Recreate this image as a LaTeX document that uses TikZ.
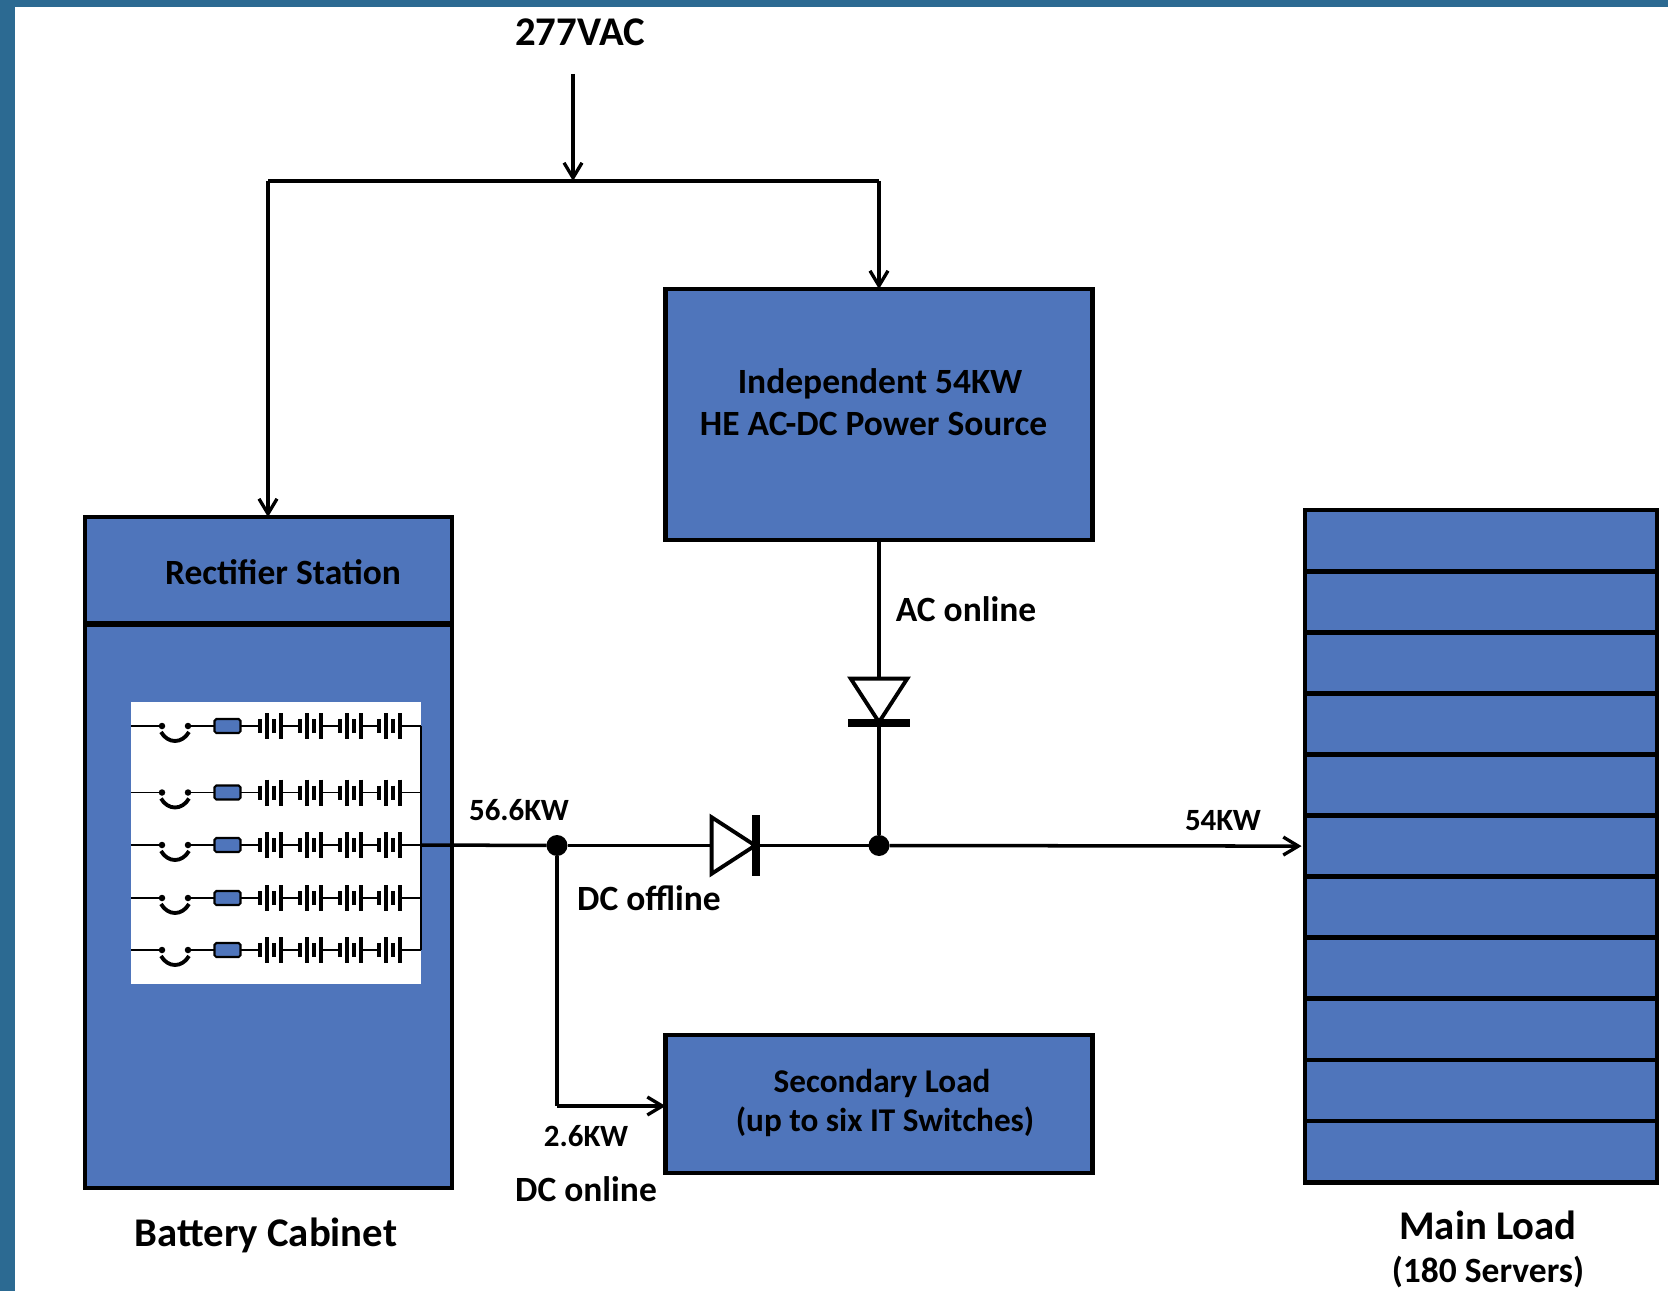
\documentclass[tikz,border=0pt]{standalone}
\usepackage{fontspec}
\setmainfont{Carlito}
\usepackage{xcolor}
\usetikzlibrary{shapes.geometric,arrows.meta}
\definecolor{boxblue}{HTML}{4F75BB}
\definecolor{framebl}{HTML}{2C6A92}

\begin{document}
\begin{tikzpicture}[
  x=0.02cm, y=-0.02cm,
  font=\bfseries\fontsize{20.2}{24}\selectfont,
  every node/.append style={align=center},
  blk/.style={rectangle, draw, fill=boxblue, line width=2.7pt, inner sep=0pt, outer sep=0pt},
  srv/.style={blk, minimum width=7.04cm, minimum height=1.222cm},
  arr/.style={-{Straight Barb[length=3mm,width=3.6mm,line width=1.9pt]}, line width=2pt},
  wire/.style={line width=2pt},
  thin wire/.style={line width=0.9pt},
  dot/.style={circle, fill, inner sep=0pt, outer sep=0pt, minimum size=0.42cm},
  sdot/.style={circle, fill, inner sep=0pt, outer sep=0pt, minimum size=0.13cm},
  fuse/.style={rectangle, rounded corners=1pt, draw, fill=boxblue, line width=1.2pt, inner sep=0pt, outer sep=0pt, minimum width=0.52cm, minimum height=0.28cm},
  dio/.style={isosceles triangle, isosceles triangle apex angle=66, draw, fill=white, line width=2.2pt, inner sep=0pt, outer sep=0pt, minimum height=0.87cm},
  bar/.style={rectangle, fill, inner sep=0pt, outer sep=0pt},
  small/.style={font=\bfseries\fontsize{17.6}{21}\selectfont},
  big/.style={font=\bfseries\fontsize{23.2}{27}\selectfont}
]
% page
\fill[framebl] (0,0) rectangle (1668,1291);
\fill[white] (15,7) rectangle (1668,1291);
\useasboundingbox (0,0) rectangle (1668,1291);

% boxes
\node[blk, minimum width=8.54cm, minimum height=5.02cm] (src) at (879,414.5) {};
\node[blk, minimum width=7.34cm, minimum height=2.14cm] (rect) at (268.5,570.5) {};
\node[blk, minimum width=7.34cm, minimum height=11.28cm] (batt) at (268.5,906) {};
\draw[line width=3.6pt] (rect.south west) -- (rect.south east);
\node[blk, minimum width=8.54cm, minimum height=2.76cm] (sec) at (879,1104) {};
\foreach \i in {1,...,11}
  \node[srv] (srv\i) at (1481,{479.5+61.1*\i}) {};

% battery strings
\node[rectangle, fill=white, inner sep=0pt, minimum width=5.8cm, minimum height=5.64cm] (panel) at (276,843) {};
\foreach \i/\ry in {1/726,2/792.5,3/845,4/898,5/950} {
  \coordinate (rowl\i) at (131,\ry);
  \coordinate (rowr\i) at (421,\ry);
  \node[sdot] (swa\i) at (162,\ry) {};
  \node[sdot] (swb\i) at (188,\ry) {};
  \node[fuse] (fuse\i) at (227.5,\ry) {};
  \draw[thin wire] (rowl\i) -- (swa\i);
  \draw[thin wire] (swb\i) -- (fuse\i);
  \draw[thin wire] (fuse\i) -- (rowr\i);
  \draw[line width=2.2pt] (161,\ry+6) .. controls (168,\ry+18) and (182,\ry+18) .. (189,\ry+6);
  \foreach \cx in {260,300,340,379} {
    \draw[line width=1.5pt, white] (\cx,\ry) -- (\cx+21,\ry);
    \draw[line width=2pt] (\cx,\ry-7) -- (\cx,\ry+7);
    \draw[line width=2pt] (\cx+7,\ry-13) -- (\cx+7,\ry+13);
    \draw[line width=2pt] (\cx+14,\ry-7) -- (\cx+14,\ry+7);
    \draw[line width=2pt] (\cx+21,\ry-13) -- (\cx+21,\ry+13);
  }
}
\draw[thin wire] (rowr1) -- (rowr5);

% supply
\coordinate (ac) at (573,74);
\coordinate (busl) at (268,181);
\coordinate (busm) at (573,181);
\coordinate (busr) at (879,181);
\draw[arr] (ac) -- (busm);
\draw[wire] (busl) -- (busr);
\draw[arr] (busl) -- (busl |- rect.north);
\draw[arr] (busr) -- (src.north);

% diodes and junctions
\node[dot] (jdc) at (557,845.5) {};
\node[dot] (jac) at (879,845.5) {};
\node[dio, shape border rotate=270] (dv) at (879,694) {};
\node[bar, minimum width=1.24cm, minimum height=0.16cm] (bv) at (879,723) {};
\node[dio] (dh) at (727,845.5) {};
\node[bar, minimum width=0.16cm, minimum height=1.24cm] (bh) at (756,845.5) {};
\draw[wire] (src.south) -- (dv.north);
\draw[wire] (bv) -- (jac);
\draw[wire] (rowr3) -- (jdc);
\draw[wire] (jdc) -- (dh.west);
\draw[wire] (bh) -- (jac);
\draw[arr, shorten >=2pt] (jac) -- (srv6.west);
\coordinate (bend) at (557,1106);
\draw[wire] (jdc) -- (bend);
\draw[arr] (bend) -- (sec.west |- bend);

% labels
\node[big] (t277) at (580,32) {277VAC};
\node (tsrc) at (880,402) {Independent 54KW\\HE AC-DC Power Source\hspace*{0.36em}};
\node (trect) at (283,572) {Rectifier Station};
\node (tac) at (966,609) {AC online};
\node[small] (t566) at (519,810) {56.6KW};
\node[small] (t54) at (1223,821) {54KW};
\node (tdcoff) at (649,898) {DC offline};
\node[small] (t26) at (586,1136) {2.6KW};
\node (tdcon) at (586,1189) {DC online};
\node[font=\bfseries\fontsize{18.9}{22.4}\selectfont] (tsec) at (885,1103) {Secondary Load\hspace*{0.18em}\\(up to six IT Switches)};
\node[big] (tbatt) at (266,1235) {Battery Cabinet};
\node[big] (tmain) at (1488,1225) {Main Load};
\node (tserv) at (1488,1272) {(180 Servers)};
\end{tikzpicture}
\end{document}
